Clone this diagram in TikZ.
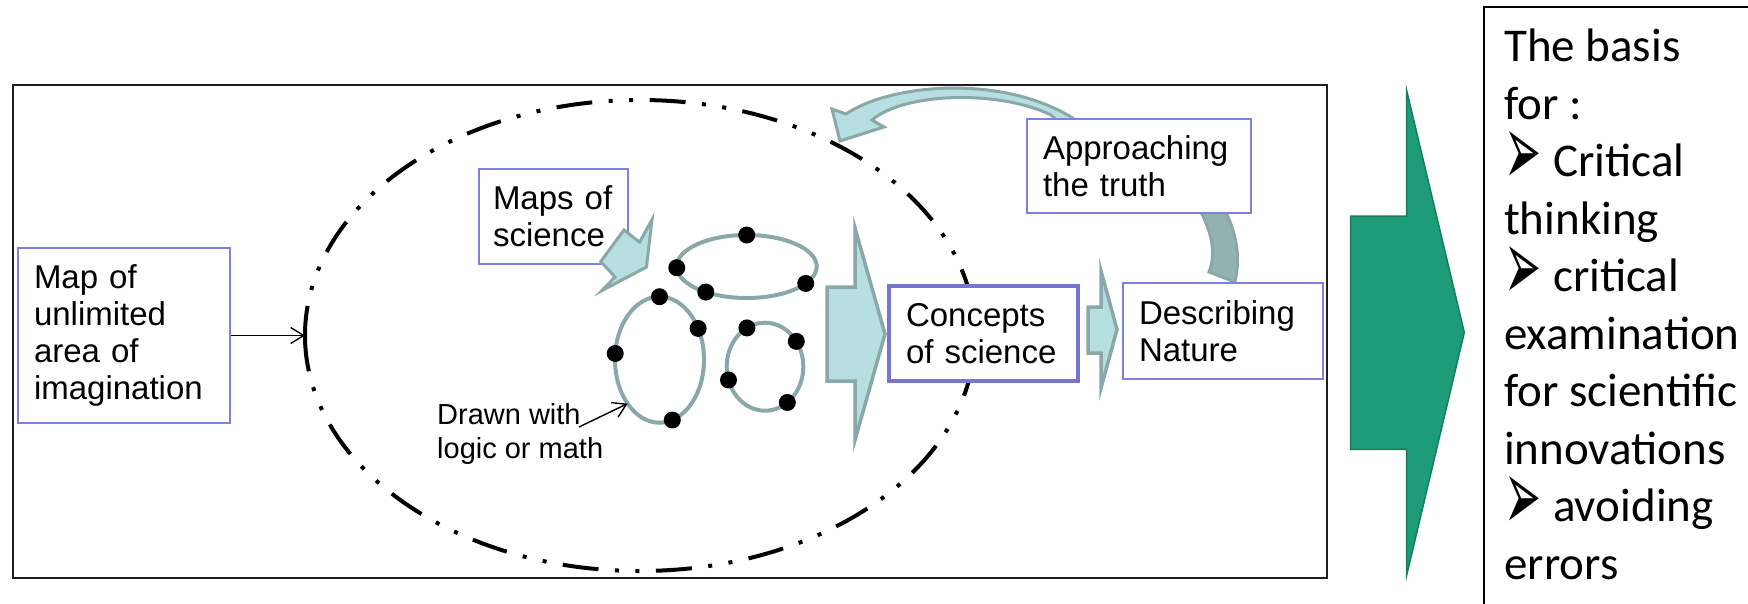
\documentclass[tikz,border=0pt]{standalone}
\usepackage{fontspec}
\usepackage{graphicx}
\setmainfont{Liberation Sans}
\newfontfamily\calibrifont{Carlito}
\newfontfamily\dejavufont{DejaVu Sans}
\usetikzlibrary{arrows.meta,shapes.geometric}
\definecolor{lightcyan}{RGB}{183,222,225}
\definecolor{tealedge}{RGB}{138,168,168}
\definecolor{tealdark}{RGB}{149,178,178}
\definecolor{boxblue}{RGB}{128,128,224}
\definecolor{boxblue2}{RGB}{118,118,206}
\definecolor{greenfill}{RGB}{30,155,120}
\definecolor{greenedge}{RGB}{24,125,96}
\definecolor{frameline}{RGB}{30,30,30}
\newcommand{\mybul}{\makebox[49pt][l]{\raisebox{-9pt}{\resizebox{37pt}{54pt}{\dejavufont ➢}}}}
\begin{document}
\begin{tikzpicture}[x=1pt,y=-1pt,
  lbl/.style={draw=boxblue, line width=1.4pt, fill=white, inner xsep=16pt, inner ysep=0pt, align=left, font=\fontsize{33}{37}\selectfont},
  thinarrow/.style={draw=black, line width=1.4pt, -{Straight Barb[length=13pt,width=16pt]}},
  loopring/.style={draw=tealedge, line width=4pt, ellipse, inner sep=0pt, outer sep=0pt},
  blockarrow/.style={fill=lightcyan, draw=tealedge, line width=3.5pt, line join=miter},
  bigdash/.style={line width=4pt, dash pattern=on 36pt off 16.5pt on 4pt off 16.5pt on 4pt off 16.5pt}
]
\useasboundingbox (0,0) rectangle (1748,603);
\clip (0,0) rectangle (1748,603);

% outer frame
\node[draw=frameline, line width=2pt, minimum width=1314pt, minimum height=493pt, inner sep=0pt, anchor=north west] (frame) at (12,84) {};

% big dash-dot-dot ellipse
\node[ellipse, minimum width=670pt, minimum height=471pt, inner sep=0pt, outer sep=0pt] (big) at (640,335.5) {};
\draw[bigdash] (big.west) arc[start angle=180, end angle=-180, x radius=335, y radius=235.5];

% loops with dots
\node[loopring, minimum width=140pt, minimum height=63pt] (loopA) at (746.7,266.5) {};
\node[loopring, minimum width=89pt, minimum height=126pt] (loopB) at (659.5,359.7) {};
\node[loopring, minimum width=76.6pt, minimum height=88pt] (loopC) at (765,366.7) {};
\foreach \n/\a in {loopA/90,loopA/181,loopA/212,loopA/344,loopB/90,loopB/39,loopB/172,loopB/282,loopC/115,loopC/39,loopC/200,loopC/302}
  \fill (\n.\a) circle[radius=8.5];

% block arrows
\draw[blockarrow] (827,287) -- (855,287) -- (855,228) -- (885,334) -- (855,440) -- (855,381) -- (827,381) -- cycle;
\draw[blockarrow] (1088,307) -- (1101,307) -- (1101,271) -- (1117,329.5) -- (1101,388) -- (1101,353) -- (1088,353) -- cycle;

% curved arrow (Describing -> ellipse)
\draw[blockarrow, line width=3pt] (840,141) -- (832,109) -- (846,114) .. controls (890,84) and (1000,74) .. (1071,117) -- (1120,150) -- (1100,160) -- (1051,115) .. controls (1000,90) and (905,92) .. (872,120) -- (884,127) -- cycle;
\draw[fill=tealdark, draw=tealedge, line width=3pt] (1197,205) .. controls (1213,232) and (1216,255) .. (1209,272) -- (1235,282) .. controls (1241,255) and (1236,230) .. (1222,205) -- cycle;

% label boxes
\node[lbl, minimum height=175pt, text width=180pt] (map) at (124,335.5) {Map of\\unlimited\\area of\\imagination};
\node[lbl, minimum height=95pt, text width=121pt, inner xsep=14pt] (maps) at (553.5,216.5) {Maps~of\\science};
\node[lbl, draw=boxblue2, line width=4pt, minimum height=95pt, text width=155pt, inner xsep=17pt] (concepts) at (983.5,333.5) {Concepts\\of~science};
\node[lbl, minimum height=96pt, text width=168pt] (describing) at (1223,331) {Describing\\Nature};
\node[lbl, minimum height=94pt, text width=192pt] (approach) at (1139,166) {Approaching\\the~truth};

% small arrow from Maps of science
\draw[blockarrow, line width=3pt] (646.5,267) -- (601.7,290.7) -- (615,277) -- (600.7,261.5) -- (624,230) -- (639.6,242.2) -- (652,219.6) -- cycle;

% thin arrows
\draw[thinarrow] (map.east) -- (big.west);
\node[anchor=north west, inner sep=0pt, align=left, font=\fontsize{29}{34}\selectfont] (drawn) at (437,403) {Drawn with\\logic or math};
\coordinate (drawnfrom) at (579,427);
\draw[thinarrow] (drawnfrom) -- (loopB.234);

% green arrow
\draw[fill=greenfill, draw=greenedge, line width=1.5pt] (1350.7,216) -- (1406.7,216) -- (1406.7,90.7) -- (1464.3,332.5) -- (1406.7,575) -- (1406.7,449.3) -- (1350.7,449.3) -- cycle;

% right box
\node[draw=black, line width=2pt, anchor=north west, minimum width=300pt, minimum height=640pt, inner sep=0pt] (basisbox) at (1483,6) {};
\node[anchor=north west, inner sep=0pt, align=left, font=\calibrifont\fontsize{47}{57.5}\selectfont] (basis) at (1504,29) {The basis\\for :\\\mybul Critical\\thinking\\\mybul critical\\examination\\for scientific\\innovations\\\mybul avoiding\\errors};
\end{tikzpicture}
\end{document}
